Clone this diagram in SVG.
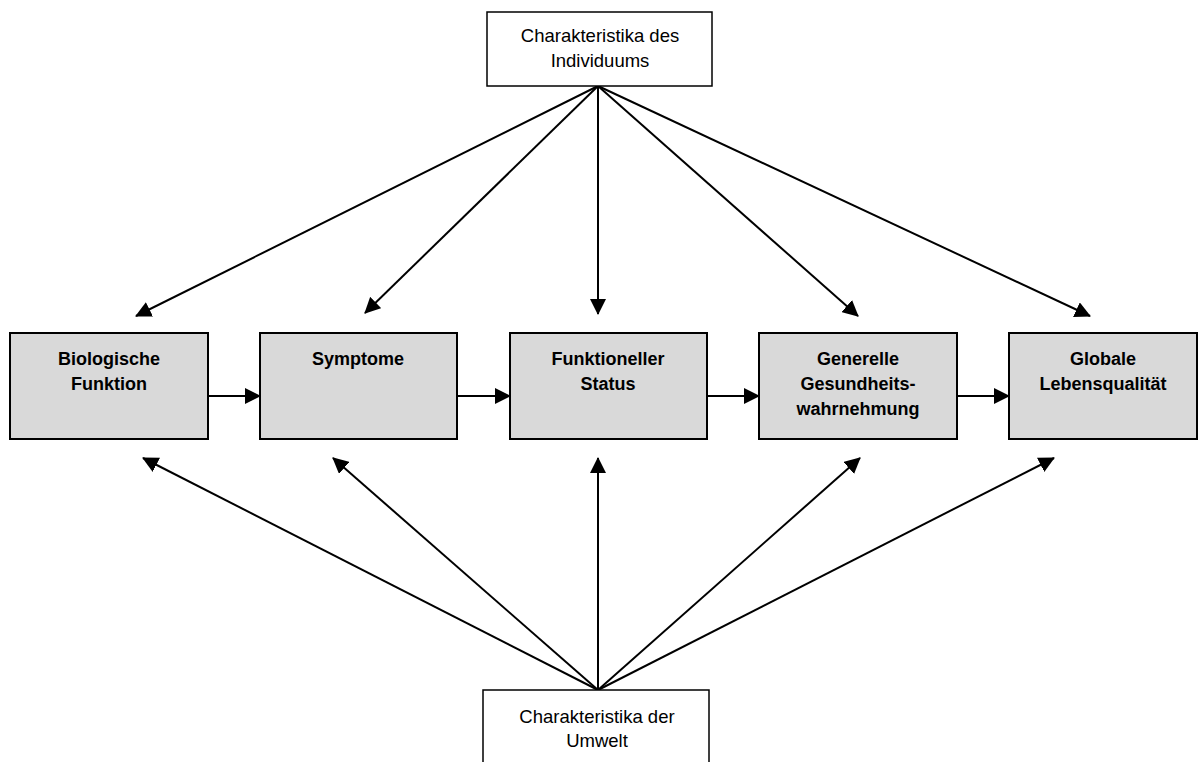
<svg xmlns="http://www.w3.org/2000/svg" width="1198" height="762" viewBox="0 0 1198 762">
<defs>
<marker id="ah" markerWidth="8" markerHeight="8" refX="7.5" refY="4" orient="auto" markerUnits="strokeWidth">
<path d="M0,0 L8,4 L0,8 Z" fill="#000"/>
</marker>
<style>
.box{fill:#d9d9d9;stroke:#000;stroke-width:2}
.wbox{fill:#fff;stroke:#000;stroke-width:1.5}
.b{font-family:"Liberation Sans",Arial,sans-serif;font-size:18px;font-weight:bold;text-anchor:middle;fill:#000}
.n{font-family:"Liberation Sans",Arial,sans-serif;font-size:18.5px;text-anchor:middle;fill:#000}
.c{stroke:#000;stroke-width:2;fill:none;marker-end:url(#ah)}
</style>
</defs>
<rect width="1198" height="762" fill="#fff"/>
<g id="connectors">
<line class="c" x1="598" y1="86" x2="136" y2="316"/>
<line class="c" x1="598" y1="86" x2="365" y2="313"/>
<line class="c" x1="598" y1="86" x2="598" y2="314"/>
<line class="c" x1="598" y1="86" x2="858" y2="316"/>
<line class="c" x1="598" y1="86" x2="1090" y2="316"/>
<line class="c" x1="598" y1="690" x2="143" y2="458"/>
<line class="c" x1="598" y1="690" x2="333" y2="458"/>
<line class="c" x1="598" y1="690" x2="598" y2="458"/>
<line class="c" x1="598" y1="690" x2="860" y2="458"/>
<line class="c" x1="598" y1="690" x2="1054" y2="458"/>
<line class="c" x1="208" y1="396" x2="260" y2="396"/>
<line class="c" x1="457" y1="396" x2="510" y2="396"/>
<line class="c" x1="707" y1="396" x2="759" y2="396"/>
<line class="c" x1="957" y1="396" x2="1009" y2="396"/>
</g>
<g id="top">
<rect class="wbox" x="487" y="12" width="225" height="74"/>
<text class="n" x="600" y="42">Charakteristika des</text>
<text class="n" x="600" y="67">Individuums</text>
</g>
<g id="bottom">
<rect class="wbox" x="483" y="690" width="226" height="80"/>
<text class="n" x="597" y="723">Charakteristika der</text>
<text class="n" x="597" y="747">Umwelt</text>
</g>
<g id="n1">
<rect class="box" x="10" y="333" width="198" height="106"/>
<text class="b" x="109" y="365">Biologische</text>
<text class="b" x="109" y="390">Funktion</text>
</g>
<g id="n2">
<rect class="box" x="260" y="333" width="197" height="106"/>
<text class="b" x="358" y="365">Symptome</text>
</g>
<g id="n3">
<rect class="box" x="510" y="333" width="197" height="106"/>
<text class="b" x="608" y="365">Funktioneller</text>
<text class="b" x="608" y="390">Status</text>
</g>
<g id="n4">
<rect class="box" x="759" y="333" width="198" height="106"/>
<text class="b" x="858" y="365">Generelle</text>
<text class="b" x="858" y="390">Gesundheits-</text>
<text class="b" x="858" y="415">wahrnehmung</text>
</g>
<g id="n5">
<rect class="box" x="1009" y="333" width="188" height="106"/>
<text class="b" x="1103" y="365">Globale</text>
<text class="b" x="1103" y="390">Lebensqualität</text>
</g>
</svg>
